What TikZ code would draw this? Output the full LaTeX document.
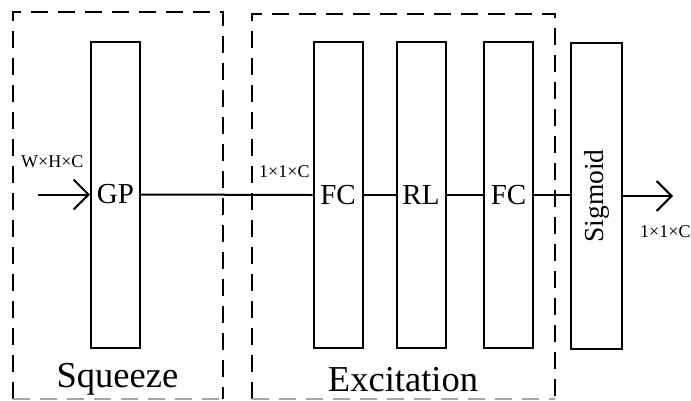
\documentclass[tikz,border=0pt]{standalone}
\usepackage{fontspec}
\setmainfont{Liberation Serif}
\usetikzlibrary{arrows.meta}
\begin{document}
\begin{tikzpicture}[x=1pt,y=-1pt,
  blk/.style={draw, line width=2pt, minimum width=49pt, minimum height=306pt, inner sep=0pt, font=\fontsize{29}{29}\selectfont},
  grp/.style={line width=2pt, dash pattern=on 17pt off 10pt},
  grpbottom/.style={grp, draw=black!35},
  conn/.style={line width=2pt},
  arr/.style={conn, -{Straight Barb[length=15pt,width=30pt,line width=2pt]}},
  dimlabel/.style={anchor=base west, inner sep=0pt, font=\fontsize{18}{18}\selectfont},
  grplabel/.style={anchor=base, inner sep=0pt, font=\fontsize{36.5}{36.5}\selectfont}]
\useasboundingbox (0,0) rectangle (691,400);
% group frames
\draw[grp] (13,399) -- (13,12) -- (223,12) -- (223,399);
\draw[grpbottom] (13,399) -- (223,399);
\draw[grp] (252,399) -- (252,14) -- (555,14) -- (555,399);
\draw[grpbottom] (252,398.5) -- (555,398.5);
% blocks
\node[blk] (gp) at (115.5,194.5) {GP};
\node[blk] (fc1) at (338,195) {FC};
\node[blk] (rl) at (421,195) {RL};
\node[blk] (fc2) at (508.5,195) {FC};
\node[blk, minimum width=51pt, font=\fontsize{27.5}{27.5}\selectfont] (sig) at (596.5,196) {\rotatebox{90}{Sigmoid}};
% connectors
\coordinate (in) at (38,194.5);
\coordinate (out) at (673,196);
\draw[arr] (in) -- (gp.west);
\draw[conn] (gp.east) -- (fc1.west);
\draw[conn] (fc1.east) -- (rl.west);
\draw[conn] (rl.east) -- (fc2.west);
\draw[conn] (fc2.east) -- (fc2.east -| sig.west);
\draw[arr] (sig.east) -- (out);
% labels
\node[dimlabel] (lin) at (21,167) {W×H×C};
\node[dimlabel] (lmid) at (259,177) {1×1×C};
\node[dimlabel] (lout) at (640,237) {1×1×C};
\node[grplabel] (sq) at (117.5,387) {Squeeze};
\node[grplabel] (ex) at (403,391) {Excitation};
\end{tikzpicture}
\end{document}
